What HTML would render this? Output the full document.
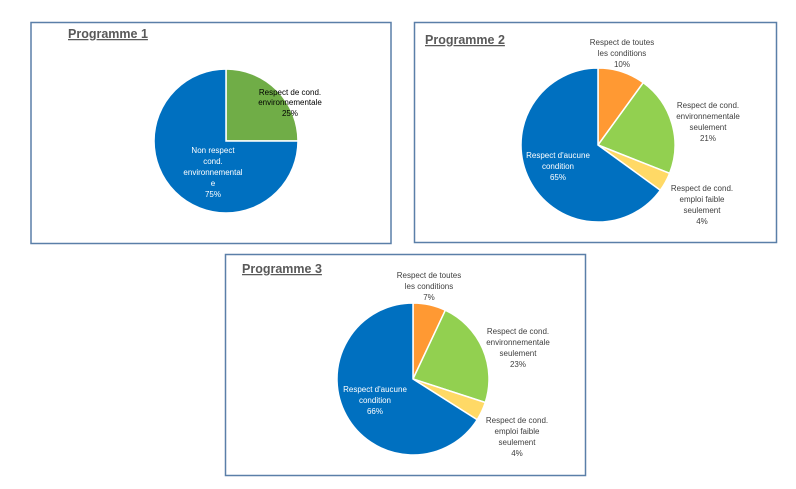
<!DOCTYPE html>
<html><head><meta charset="utf-8"><style>
body{margin:0;background:#fff;width:796px;height:489px;overflow:hidden}
svg{display:block;font-family:"Liberation Sans",sans-serif}
</style></head><body>
<svg id="s" width="796" height="489" viewBox="0 0 796 489">
<rect x="31" y="22.5" width="360" height="221" fill="#fff" stroke="#5a7fa8" stroke-width="1.5"/>
<rect x="414.5" y="22.5" width="362" height="220" fill="#fff" stroke="#5a7fa8" stroke-width="1.5"/>
<rect x="225.5" y="254.5" width="360" height="221" fill="#fff" stroke="#5a7fa8" stroke-width="1.5"/>
<g font-weight="bold" font-size="12.5" fill="#595959" text-decoration="underline">
<text x="68" y="38">Programme 1</text>
<text x="425" y="44">Programme 2</text>
<text x="242" y="273">Programme 3</text>
</g>
<g id="pies"></g>
<g font-size="8" text-anchor="middle" fill="#404040">
<text x="290" y="95" fill="#000">Respect de cond.</text>
<text x="290" y="105" fill="#000">environnementale</text>
<text x="290" y="116" fill="#000">25%</text>
<g fill="#fff"><text x="213" y="153">Non respect</text><text x="213" y="164">cond.</text><text x="213" y="175">environnemental</text><text x="213" y="186">e</text><text x="213" y="197">75%</text></g>

<text x="622" y="45">Respect de toutes</text><text x="622" y="56">les conditions</text><text x="622" y="67">10%</text>
<text x="708" y="108">Respect de cond.</text><text x="708" y="119">environnementale</text><text x="708" y="130">seulement</text><text x="708" y="141">21%</text>
<text x="702" y="191">Respect de cond.</text><text x="702" y="202">emploi faible</text><text x="702" y="213">seulement</text><text x="702" y="224">4%</text>
<g fill="#fff"><text x="558" y="158">Respect d'aucune</text><text x="558" y="169">condition</text><text x="558" y="180">65%</text></g>

<text x="429" y="278">Respect de toutes</text><text x="429" y="289">les conditions</text><text x="429" y="300">7%</text>
<text x="518" y="334">Respect de cond.</text><text x="518" y="345">environnementale</text><text x="518" y="356">seulement</text><text x="518" y="367">23%</text>
<text x="517" y="423">Respect de cond.</text><text x="517" y="434">emploi faible</text><text x="517" y="445">seulement</text><text x="517" y="456">4%</text>
<g fill="#fff"><text x="375" y="392">Respect d'aucune</text><text x="375" y="403">condition</text><text x="375" y="414">66%</text></g>
</g>
</svg>
<script>
function pie(cx,cy,r,vals,cols){
 var g=document.getElementById('pies'),a=0,h='';
 vals.forEach(function(v,i){
  var a2=a+v/100*2*Math.PI;
  var x1=cx+r*Math.sin(a),y1=cy-r*Math.cos(a),x2=cx+r*Math.sin(a2),y2=cy-r*Math.cos(a2);
  h+='<path d="M'+cx+','+cy+'L'+x1+','+y1+'A'+r+','+r+' 0 '+(v>50?1:0)+' 1 '+x2+','+y2+'Z" fill="'+cols[i]+'" stroke="#fff" stroke-width="1.5"/>';
  a=a2;});
 g.innerHTML+=h;
}
pie(226,141,72,[25,75],['#70ad47','#0070c0']);
pie(598,145,77,[10,21,4,65],['#ff9933','#92d050','#ffd966','#0070c0']);
pie(413,379,76,[7,23,4,66],['#ff9933','#92d050','#ffd966','#0070c0']);
</script>
</body></html>
